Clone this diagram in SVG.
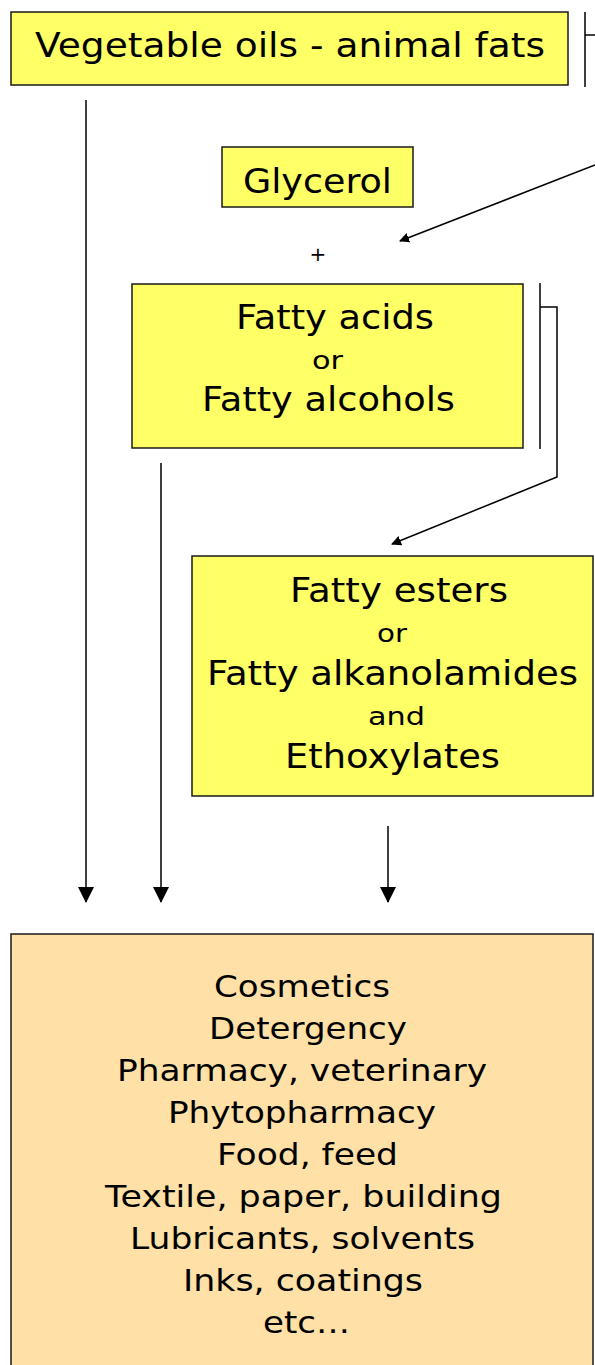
<svg xmlns="http://www.w3.org/2000/svg" width="595" height="1365" viewBox="0 0 595 1365">
<defs>
<marker id="ah" markerWidth="10" markerHeight="10" refX="9" refY="5" orient="auto" markerUnits="userSpaceOnUse" viewBox="0 0 10 10">
<path d="M0,0 L10,5 L0,10 z" fill="#000"/>
</marker>
<marker id="ahb" markerWidth="16" markerHeight="16" refX="15" refY="8" orient="auto" markerUnits="userSpaceOnUse" viewBox="0 0 16 16">
<path d="M0,0 L16,8 L0,16 z" fill="#000"/>
</marker>
</defs>
<style>
.box{fill:#FFFF66;stroke:#1a1a1a;stroke-width:1.5}
.obox{fill:#FFE0A6;stroke:#1a1a1a;stroke-width:1.5}
text{font-family:"DejaVu Sans","Verdana",sans-serif;fill:#000;text-anchor:middle}
.big{font-size:33px}
.mid{font-size:31px}
.sm{font-size:25px}
.ln{fill:none;stroke:#000;stroke-width:1.5}
</style>
<g id="connectors">
<polyline class="ln" points="585,12 585,87"/>
<polyline class="ln" points="585,35 595,35"/>
<line class="ln" x1="595" y1="165" x2="400" y2="241" marker-end="url(#ah)"/>
<polyline class="ln" points="540,283 540,449"/>
<polyline class="ln" points="540,307 557,307 557,477 392,544" marker-end="url(#ah)"/>
<line class="ln" x1="86" y1="100" x2="86" y2="902" marker-end="url(#ahb)"/>
<line class="ln" x1="161" y1="463" x2="161" y2="902" marker-end="url(#ahb)"/>
<line class="ln" x1="388" y1="826" x2="388" y2="902" marker-end="url(#ahb)"/>
</g>
<g id="n-oils">
<rect class="box" x="11" y="12" width="557" height="73"/>
<text class="big" x="290" y="57" textLength="510" lengthAdjust="spacingAndGlyphs">Vegetable oils - animal fats</text>
</g>
<g id="n-glycerol">
<rect class="box" x="222" y="147" width="191" height="60"/>
<text class="big" x="317.5" y="193" textLength="149" lengthAdjust="spacingAndGlyphs">Glycerol</text>
</g>
<g id="n-plus">
<text x="318" y="261" style="font-size:20px">+</text>
</g>
<g id="n-acids">
<rect class="box" x="132" y="284" width="391" height="164"/>
<text class="big" x="335" y="329" textLength="198" lengthAdjust="spacingAndGlyphs">Fatty acids</text>
<text class="sm" x="327.5" y="369" textLength="31" lengthAdjust="spacingAndGlyphs">or</text>
<text class="big" x="328.5" y="411" textLength="253" lengthAdjust="spacingAndGlyphs">Fatty alcohols</text>
</g>
<g id="n-esters">
<rect class="box" x="192" y="556" width="401" height="240"/>
<text class="big" x="399" y="602" textLength="218" lengthAdjust="spacingAndGlyphs">Fatty esters</text>
<text class="sm" x="392" y="642" textLength="30" lengthAdjust="spacingAndGlyphs">or</text>
<text class="big" x="392.5" y="685" textLength="371" lengthAdjust="spacingAndGlyphs">Fatty alkanolamides</text>
<text class="sm" x="396.5" y="725" textLength="57" lengthAdjust="spacingAndGlyphs">and</text>
<text class="big" x="392.5" y="768" textLength="215" lengthAdjust="spacingAndGlyphs">Ethoxylates</text>
</g>
<g id="n-uses">
<rect class="obox" x="11" y="934" width="582" height="440"/>
<text class="mid" x="302" y="997" textLength="176" lengthAdjust="spacingAndGlyphs">Cosmetics</text>
<text class="mid" x="308" y="1039" textLength="198" lengthAdjust="spacingAndGlyphs">Detergency</text>
<text class="mid" x="302" y="1081" textLength="370" lengthAdjust="spacingAndGlyphs">Pharmacy, veterinary</text>
<text class="mid" x="302" y="1123" textLength="268" lengthAdjust="spacingAndGlyphs">Phytopharmacy</text>
<text class="mid" x="307.5" y="1165" textLength="181" lengthAdjust="spacingAndGlyphs">Food, feed</text>
<text class="mid" x="303.5" y="1207" textLength="397" lengthAdjust="spacingAndGlyphs">Textile, paper, building</text>
<text class="mid" x="302.5" y="1249" textLength="345" lengthAdjust="spacingAndGlyphs">Lubricants, solvents</text>
<text class="mid" x="303" y="1291" textLength="240" lengthAdjust="spacingAndGlyphs">Inks, coatings</text>
<text class="mid" x="306.5" y="1333" textLength="87" lengthAdjust="spacingAndGlyphs">etc…</text>
</g>
</svg>
